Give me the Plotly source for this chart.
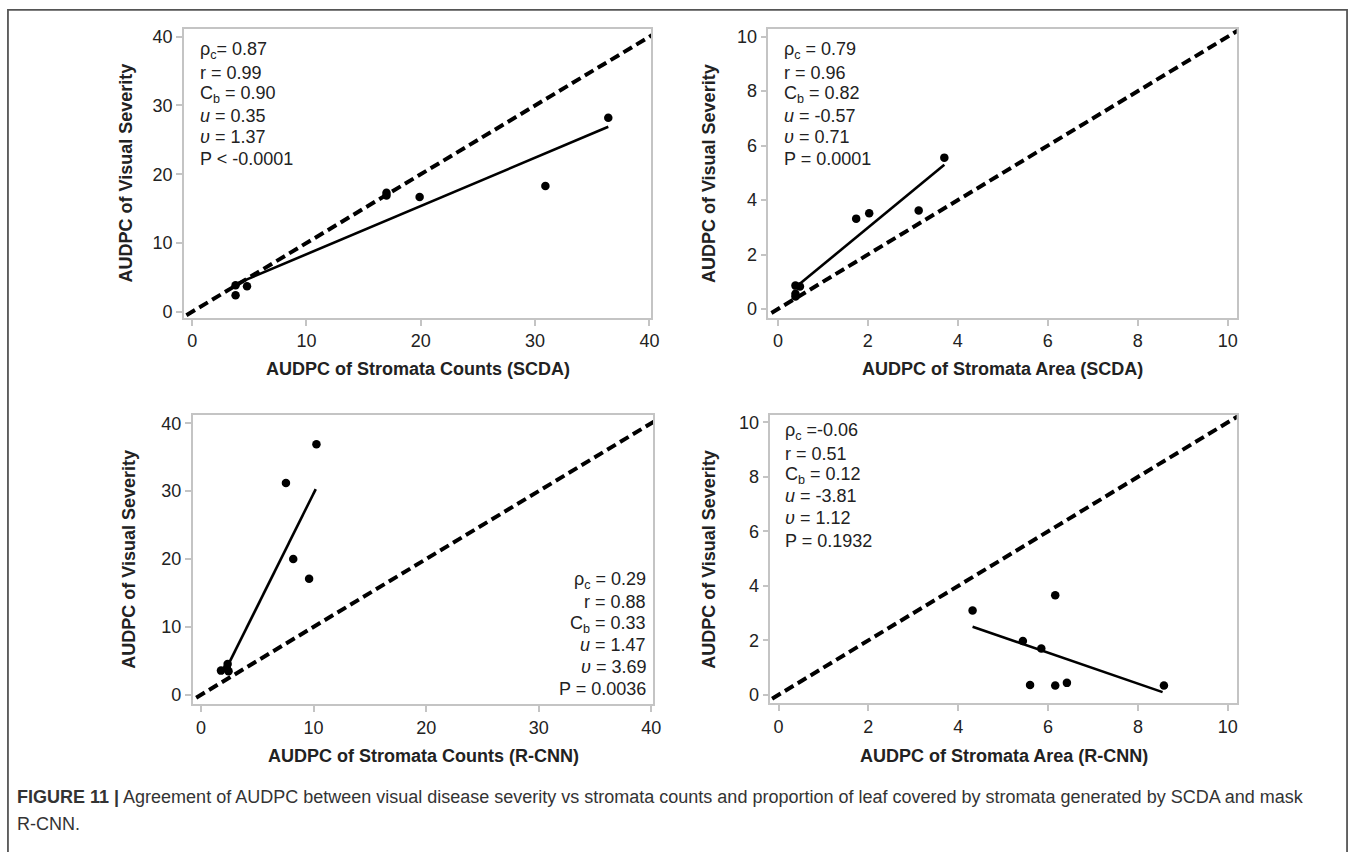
import plotly.graph_objects as go

W, H = 1362, 852

# ---------------- data ----------------
# Panel A: AUDPC of stromata counts (SCDA) vs visual severity
a_x = [36.4, 30.9, 19.9, 17.0, 17.0, 3.8, 3.8, 4.8]
a_y = [28.2, 18.3, 16.7, 17.3, 16.9, 3.85, 2.4, 3.7]
a_fit_x = [4.06, 36.4]
a_fit_y = [4.2, 26.9]
a_stats = ["ρ<sub>c</sub>= 0.87", "r = 0.99", "C<sub>b</sub> = 0.90",
           "<i>u</i> = 0.35", "<i>υ</i> = 1.37", "P < -0.0001"]

# Panel B: AUDPC of stromata area (SCDA) vs visual severity
b_x = [3.70, 1.74, 2.03, 3.13, 0.39, 0.49, 0.39, 0.39]
b_y = [5.56, 3.32, 3.52, 3.62, 0.86, 0.83, 0.56, 0.46]
b_fit_x = [0.46, 3.70]
b_fit_y = [0.89, 5.30]
b_stats = ["ρ<sub>c</sub> = 0.79", "r = 0.96", "C<sub>b</sub> = 0.82",
           "<i>u</i> = -0.57", "<i>υ</i> = 0.71", "P = 0.0001"]

# Panel C: AUDPC of stromata counts (R-CNN) vs visual severity
c_x = [10.25, 7.54, 8.19, 9.60, 1.77, 2.36, 2.44, 2.30]
c_y = [36.9, 31.2, 20.0, 17.1, 3.56, 4.54, 3.46, 3.90]
c_fit_x = [2.15, 10.19]
c_fit_y = [3.56, 30.3]
c_stats = ["ρ<sub>c</sub> = 0.29", "r = 0.88", "C<sub>b</sub> = 0.33",
           "<i>u</i> = 1.47", "<i>υ</i> = 3.69", "P = 0.0036"]

# Panel D: AUDPC of stromata area (R-CNN) vs visual severity
d_x = [4.32, 6.16, 5.44, 5.85, 5.60, 6.16, 6.42, 8.58]
d_y = [3.10, 3.66, 1.98, 1.70, 0.36, 0.34, 0.44, 0.34]
d_fit_x = [4.32, 8.55]
d_fit_y = [2.50, 0.10]
d_stats = ["ρ<sub>c</sub> =-0.06", "r = 0.51", "C<sub>b</sub> = 0.12",
           "<i>u</i> = -3.81", "<i>υ</i> = 1.12", "P = 0.1932"]

y_title = "AUDPC of Visual Severity"
x_titles = ["AUDPC of Stromata Counts (SCDA)", "AUDPC of Stromata Area (SCDA)",
            "AUDPC of Stromata Counts (R-CNN)", "AUDPC of Stromata Area (R-CNN)"]
ticks_counts = [0, 10, 20, 30, 40]
ticks_area = [0, 2, 4, 6, 8, 10]
identity_counts = [-5, 50]
identity_area = [-1, 12]

caption_lines = ["<b>FIGURE 11 |</b> Agreement of AUDPC between visual disease severity vs stromata "
                 "counts and proportion of leaf covered by stromata generated by SCDA and mask",
                 "R-CNN."]

# ---------------- layout constants (pixels) ----------------
FONT = "Liberation Sans, Arial, sans-serif"
panels = [
    dict(box=(185, 655, 27, 318), xr=[-0.72, 40.15], yr=[-0.87, 41.15], ticks=ticks_counts,
         x=a_x, y=a_y, fx=a_fit_x, fy=a_fit_y, ident=identity_counts, stats=a_stats,
         stat_x=199, stat_y=[49, 71, 93, 115, 136, 158], align="left",
         ytitle_x=127, xtitle_y=370),
    dict(box=(773, 1244, 27, 318), xr=[-0.21, 10.2], yr=[-0.32, 10.29], ticks=ticks_area,
         x=b_x, y=b_y, fx=b_fit_x, fy=b_fit_y, ident=identity_area, stats=b_stats,
         stat_x=787, stat_y=[49, 71, 93, 115, 136, 158], align="left",
         ytitle_x=713, xtitle_y=370),
    dict(box=(194, 657, 416, 707), xr=[-0.73, 40.17], yr=[-1.36, 41.2], ticks=ticks_counts,
         x=c_x, y=c_y, fx=c_fit_x, fy=c_fit_y, ident=identity_counts, stats=c_stats,
         stat_x=652, stat_y=[583, 604, 627, 648, 670, 692], align="right",
         ytitle_x=129, xtitle_y=759),
    dict(box=(775, 1244, 416, 706), xr=[-0.18, 10.2], yr=[-0.30, 10.27], ticks=ticks_area,
         x=d_x, y=d_y, fx=d_fit_x, fy=d_fit_y, ident=identity_area, stats=d_stats,
         stat_x=788, stat_y=[433, 455, 477, 498, 520, 543], align="left",
         ytitle_x=713, xtitle_y=759),
]

fig = go.Figure()
annotations = []
axis_line = "#c4c4c4"

for i, p in enumerate(panels):
    n = "" if i == 0 else str(i + 1)
    xa, ya = "x" + n, "y" + n
    l, r, t, b = p["box"]
    fig.add_trace(go.Scatter(x=p["ident"], y=p["ident"], mode="lines", xaxis=xa, yaxis=ya,
                             line=dict(color="black", width=4, dash="10px,5px"),
                             showlegend=False, hoverinfo="skip"))
    fig.add_trace(go.Scatter(x=p["fx"], y=p["fy"], mode="lines", xaxis=xa, yaxis=ya,
                             line=dict(color="black", width=2.6), showlegend=False))
    fig.add_trace(go.Scatter(x=p["x"], y=p["y"], mode="markers", xaxis=xa, yaxis=ya,
                             marker=dict(color="black", size=8.5), showlegend=False))
    common = dict(showline=True, mirror=True, linecolor=axis_line, linewidth=1.8,
                  ticks="outside", tickcolor=axis_line, ticklen=6, tickwidth=1.5,
                  showgrid=False, zeroline=False,
                  tickfont=dict(family=FONT, size=18, color="#222"),
                  tickmode="array", tickvals=p["ticks"])
    fig.update_layout(**{
        "xaxis" + n: dict(domain=[l / W, r / W], range=p["xr"], anchor=ya, **common),
        "yaxis" + n: dict(domain=[1 - b / H, 1 - t / H], range=p["yr"], anchor=xa, **common),
    })
    for s, yy in zip(p["stats"], p["stat_y"]):
        annotations.append(dict(text=s, xref="paper", yref="paper",
                                x=p["stat_x"] / W, y=1 - yy / H,
                                xanchor=p["align"], yanchor="middle", showarrow=False,
                                font=dict(family=FONT, size=18, color="#222")))
    annotations.append(dict(text="<b>" + y_title + "</b>", xref="paper", yref="paper",
                            x=p["ytitle_x"] / W, y=1 - (t + b) / 2 / H, textangle=-90,
                            xanchor="center", yanchor="middle", showarrow=False,
                            font=dict(family=FONT, size=18, color="#222")))
    annotations.append(dict(text="<b>" + x_titles[i] + "</b>", xref="paper", yref="paper",
                            x=(l + r) / 2 / W, y=1 - p["xtitle_y"] / H,
                            xanchor="center", yanchor="middle", showarrow=False,
                            font=dict(family=FONT, size=18, color="#222")))

for line, yy in zip(caption_lines, [801, 828]):
    annotations.append(dict(text=line, xref="paper", yref="paper", x=15 / W, y=1 - yy / H,
                            xanchor="left", yanchor="middle", align="left", showarrow=False,
                            font=dict(family=FONT, size=18, color="#333")))

fig.update_layout(
    width=W, height=H, margin=dict(l=0, r=0, t=0, b=0),
    paper_bgcolor="white", plot_bgcolor="white",
    annotations=annotations,
    shapes=[dict(type="rect", xref="paper", yref="paper",
                 x0=8 / W, x1=1355 / W, y0=-0.05, y1=1 - 8 / H,
                 line=dict(color="#555", width=1.8))],
)

fig.write_html("out.html")
